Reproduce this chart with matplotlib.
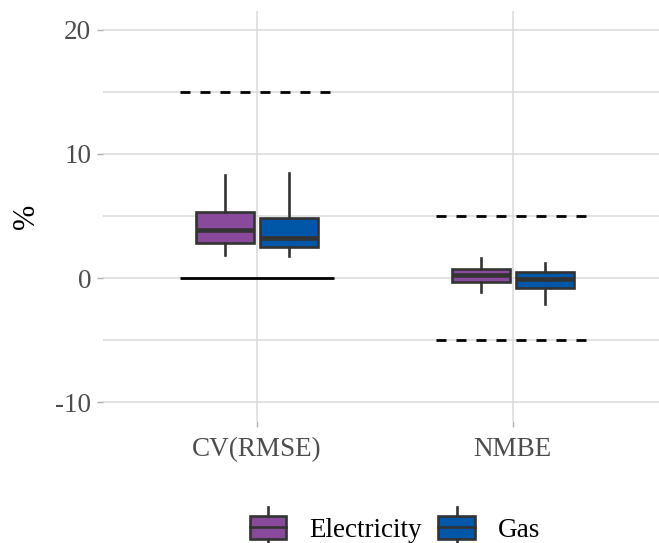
import matplotlib
matplotlib.use("Agg")
import matplotlib.pyplot as plt
from matplotlib.patches import Rectangle
from matplotlib.lines import Line2D
from matplotlib.legend_handler import HandlerBase

plt.rcParams['font.family'] = ['Liberation Serif', 'DejaVu Serif']

categories = ["CV(RMSE)", "NMBE"]
fuels = ["Electricity", "Gas"]
colors = {"Electricity": "#8A4A9C", "Gas": "#0057A8"}

# box stats per fuel, per category: whislo, q1, med, q3, whishi
elec_stats = [(1.85, 2.85, 3.87, 5.35, 8.3), (-1.15, -0.3, 0.24, 0.73, 1.59)]
gas_stats = [(1.8, 2.5, 3.2, 4.8, 8.5), (-2.1, -0.78, -0.08, 0.46, 1.24)]

# reference guide lines (category, y, style)
guides = [(0, 15, "dashed"), (0, 0, "solid"), (1, 5, "dashed"), (1, -5, "dashed")]

yticks = [-10, 0, 10, 20]
yminor = [-5, 5, 15]

W, H = 659, 543
fig = plt.figure(figsize=(W / 100, H / 100), dpi=100)
ax = fig.add_axes([103 / W, 1 - 421 / H, 563.6 / W, 410 / H])
ax.set_xlim(0.4, 2.6)
ax.set_ylim(-11.5, 21.5)

grid_c = "#DADADA"
for y in yticks + yminor:
    ax.axhline(y, color=grid_c, lw=1.1, zorder=0)
for i in range(len(categories)):
    ax.axvline(i + 1, color=grid_c, lw=1.1, zorder=0)

edge = "#333333"
offsets = {"Electricity": -0.125, "Gas": 0.125}
for fuel, stats in (("Electricity", elec_stats), ("Gas", gas_stats)):
    bx = []
    for lo, q1, med, q3, hi in stats:
        bx.append(dict(whislo=lo, q1=q1, med=med, q3=q3, whishi=hi, fliers=[]))
    pos = [i + 1 + offsets[fuel] for i in range(len(stats))]
    ax.bxp(bx, positions=pos, widths=0.225, showcaps=False, showfliers=False,
           patch_artist=True, manage_ticks=False,
           boxprops=dict(facecolor=colors[fuel], edgecolor=edge, linewidth=1.9),
           whiskerprops=dict(color=edge, linewidth=1.9),
           medianprops=dict(color=edge, linewidth=3.3, solid_capstyle="butt"),
           zorder=3)

for ci, y, style in guides:
    ln, = ax.plot([ci + 1 - 0.3, ci + 1 + 0.3], [y, y], color="black", lw=2.0,
                  solid_capstyle="butt", zorder=4)
    if style == "dashed":
        ln.set_dashes((3.6, 3.6))
        ln.set_dash_capstyle("butt")

for s in ax.spines.values():
    s.set_visible(False)
ax.set_xticks([1, 2])
ax.set_xticklabels(categories)
ax.set_yticks(yticks)
ax.set_yticklabels([str(t) for t in yticks])
ax.tick_params(axis="both", colors="#B0B0B0", length=4.5, width=1.0,
               labelsize=19.5, labelcolor="#4D4D4D")
ax.tick_params(axis="y", pad=4)
ax.tick_params(axis="x", pad=7)
ax.set_ylabel("%", fontsize=22, color="black", labelpad=10)


class BoxHandler(HandlerBase):
    def create_artists(self, legend, orig_handle, xdescent, ydescent, width,
                       height, fontsize, trans):
        fc = orig_handle.get_facecolor()
        x0, x1 = -xdescent, -xdescent + width
        bh = height * 1.15
        yc = -ydescent + height / 2
        rect = Rectangle((x0, yc - bh / 2), width, bh, facecolor=fc,
                         edgecolor=edge, lw=1.9, transform=trans)
        med = Line2D([x0, x1], [yc, yc], color=edge, lw=1.9, transform=trans)
        xm = (x0 + x1) / 2
        w1 = Line2D([xm, xm], [yc + bh / 2, yc + bh / 2 + height * 0.4],
                    color=edge, lw=1.9, transform=trans)
        w2 = Line2D([xm, xm], [yc - bh / 2, yc - bh / 2 - height * 0.3],
                    color=edge, lw=1.9, transform=trans)
        return [rect, med, w1, w2]


handles = [Rectangle((0, 0), 1, 1, facecolor=colors[f]) for f in fuels]
leg = fig.legend(handles, fuels, loc="center", bbox_to_anchor=(395 / W, 1 - 530 / H),
                 ncol=2, frameon=False, fontsize=19.5, handler_map={Rectangle: BoxHandler()},
                 handlelength=1.35, handleheight=0.8, handletextpad=0.85, columnspacing=0.6)

fig.savefig("out.png", dpi=100)
